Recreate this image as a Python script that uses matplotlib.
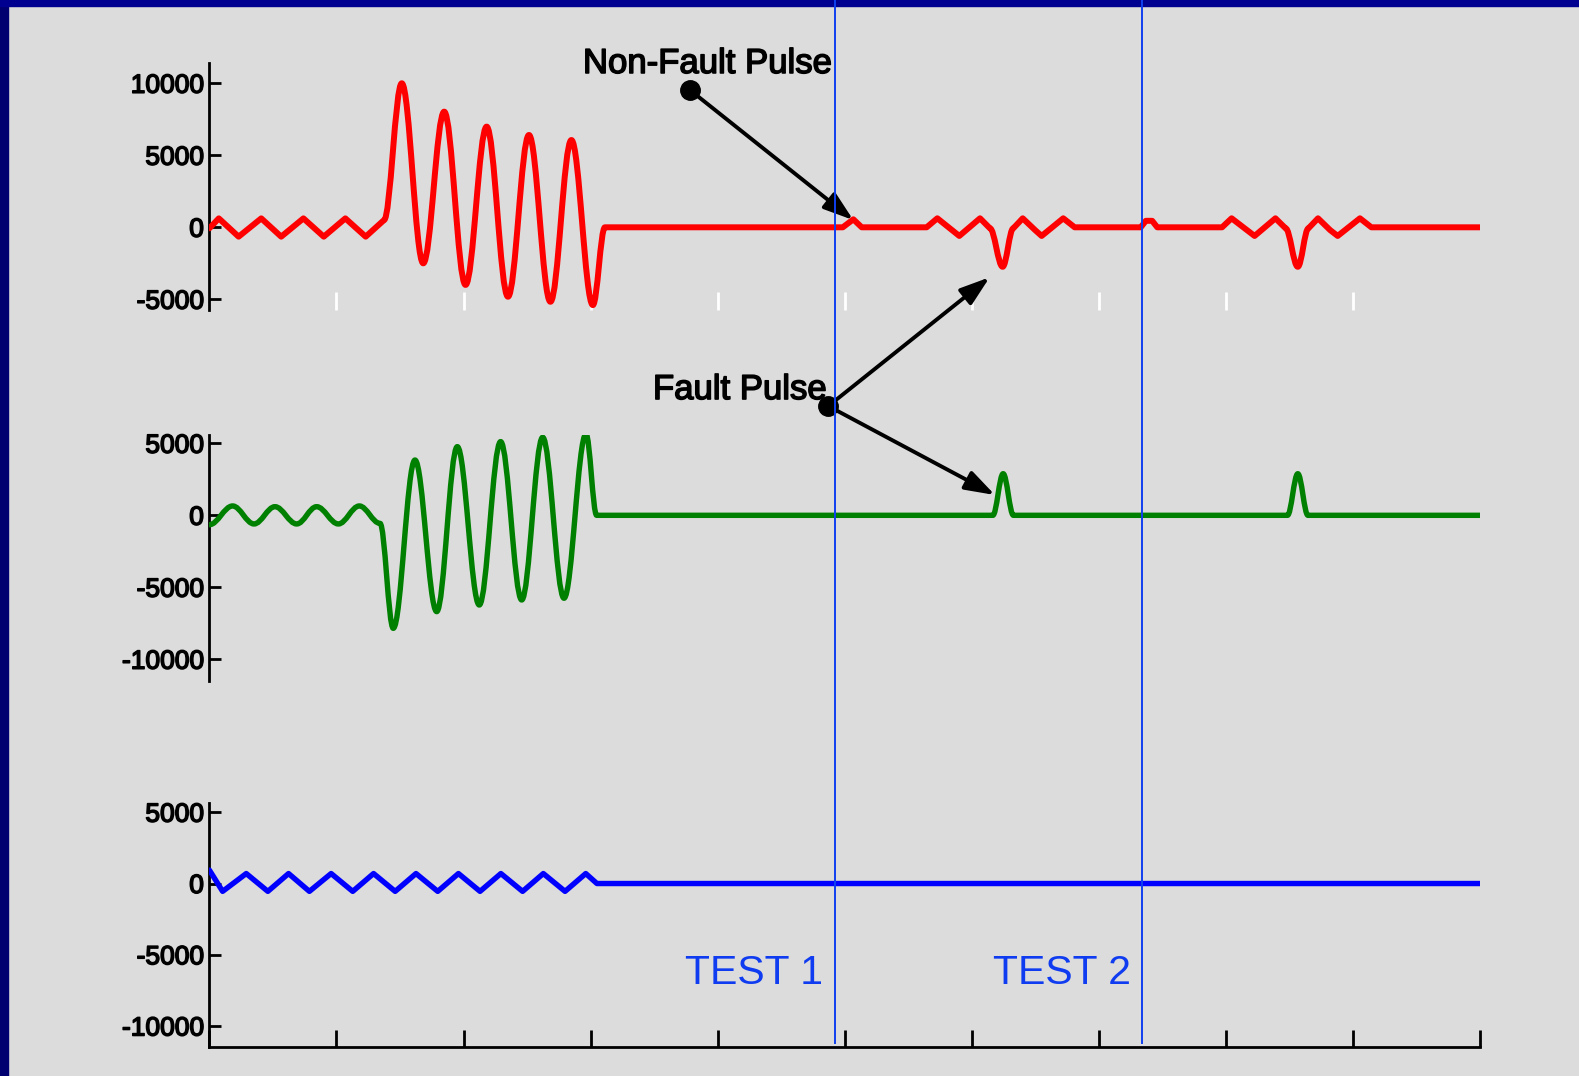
import matplotlib
matplotlib.use('Agg')
import matplotlib.pyplot as plt
import matplotlib.patheffects as pe
from matplotlib.patches import Rectangle, PathPatch
from matplotlib.path import Path

plt.rcParams['font.family'] = ['Liberation Sans', 'DejaVu Sans']
plt.rcParams['axes.unicode_minus'] = False

# --- data (x in divisions, y in amplitude) ---
# turning points of each trace
red_x = [0, 0.074, 0.23, 0.408, 0.565, 0.74, 0.90, 1.07, 1.23, 1.374,
         1.514, 1.683, 1.848, 2.016, 2.182, 2.35, 2.515, 2.684, 2.849, 3.018, 3.113,
         4.985, 5.068, 5.134,
         5.645, 5.729, 5.902, 6.065, 6.143, 6.243, 6.327, 6.401, 6.498, 6.55, 6.72, 6.81,
         7.33, 7.37, 7.42, 7.46,
         7.97, 8.045, 8.226, 8.39, 8.47, 8.566, 8.65, 8.725, 8.82, 8.88, 9.055, 9.145, 10.0]
red_y = [-70, 620, -650, 620, -650, 620, -650, 620, -650, 500,
         10000, -2500, 8030, -4000, 6990, -4820, 6410, -5170, 6060, -5400, 0,
         0, 555, 0,
         0, 625, -600, 625, -70, -2740, -70, 625, -190, -600, 625, 0,
         0, 450, 450, 0,
         0, 625, -600, 625, -70, -2740, -70, 625, -190, -600, 625, 0, 0]

green_x = [0, 0.183, 0.351, 0.516, 0.687, 0.844, 1.015, 1.18, 1.343,
           1.447, 1.618, 1.789, 1.951, 2.124, 2.292, 2.458, 2.623, 2.791, 2.964, 3.048,
           6.166, 6.247, 6.328, 8.485, 8.566, 8.646, 10.0]
green_y = [-650, 650, -600, 600, -600, 600, -600, 650, -560,
           -7850, 3840, -6690, 4770, -6230, 5120, -5880, 5420, -5760, 5650, 0,
           0, 2890, 0, 0, 2890, 0, 0]

blue_x = [0, 0.104, 0.29, 0.46, 0.623, 0.787, 0.958, 1.128, 1.292, 1.462,
          1.626, 1.797, 1.96, 2.13, 2.294, 2.465, 2.628, 2.799, 2.962, 3.05, 10.0]
blue_y = [940, -550, 700, -550, 700, -550, 700, -550, 700, -550,
          700, -550, 700, -550, 700, -550, 700, -550, 700, 0, 0]

test_x = [4.92, 7.34]
test_labels = ['TEST 1', 'TEST 2']

top_ticks = [-5000, 0, 5000, 10000]
low_ticks = [-10000, -5000, 0, 5000]

# annotation anchor points
nonfault_dot = (3.782, 9535)
nonfault_tip = (5.068, 500)
fault_dot = (4.871, 7590)
fault_tip_top = (6.141, -3470)
fault_tip_mid = (6.183, 1410)

W, H = 1579, 1076
fig = plt.figure(figsize=(W / 100, H / 100), dpi=100, facecolor='#dcdcdc')

# navy frame pieces
fig.patches.append(Rectangle((0, 0), 8 / W, 1, transform=fig.transFigure,
                             color='#000070', zorder=0))
fig.patches.append(Rectangle((0, 1 - 6 / H), 1, 6 / H, transform=fig.transFigure,
                             color='#000090', zorder=0))

heavy = [pe.withStroke(linewidth=1.1, foreground='black')]

x0 = 209.4 / W
aw = (1480 - 209.4) / W


def make_ax(top_px, bot_px):
    ax = fig.add_axes([x0, 1 - bot_px / H, aw, (bot_px - top_px) / H])
    ax.set_facecolor('none')
    ax.set_xlim(0, 10)
    for s in ['top', 'right']:
        ax.spines[s].set_visible(False)
    ax.spines['left'].set_linewidth(2)
    ax.tick_params(axis='y', direction='in', length=8.6, width=2,
                   labelsize=19, pad=4)
    return ax


def draw_trace(ax, xs, ys, color, lw, min_swing):
    # swings bigger than min_swing are drawn as rounded (sine-like) arcs,
    # smaller ones stay as the zigzag seen on the scope trace
    verts = [(xs[0], ys[0])]
    codes = [Path.MOVETO]
    for i in range(1, len(xs)):
        dx = xs[i] - xs[i - 1]
        k = 0.3642 if abs(ys[i] - ys[i - 1]) > min_swing else 0.0
        verts += [(xs[i - 1] + k * dx, ys[i - 1]),
                  (xs[i] - k * dx, ys[i]),
                  (xs[i], ys[i])]
        codes += [Path.CURVE4] * 3
    ax.add_patch(PathPatch(Path(verts, codes), fill=False, edgecolor=color, lw=lw,
                           joinstyle='round', capstyle='round', zorder=3))


ax1 = make_ax(63, 310)
ax2 = make_ax(435, 680.7)
ax3 = make_ax(803, 1046.7)

ax1.set_ylim(-5743, 11410)
ax2.set_ylim(-11490, 5580)
ax3.set_ylim(-11450, 5650)

for ax, ticks in [(ax1, top_ticks), (ax2, low_ticks), (ax3, low_ticks)]:
    ax.set_yticks(ticks)
    for lbl in ax.get_yticklabels():
        lbl.set_path_effects(heavy)

# top panel: hidden bottom spine, white ticks
ax1.spines['bottom'].set_visible(False)
ax1.set_xticks(range(1, 10))
ax1.set_xticklabels([])
ax1.tick_params(axis='x', direction='in', length=13, width=2, color='white')

# middle panel: no x axis
ax2.spines['bottom'].set_visible(False)
ax2.set_xticks([])

# bottom panel: black ticks, no labels
ax3.spines['bottom'].set_linewidth(2)
ax3.set_xticks(range(0, 11))
ax3.set_xticklabels([])
ax3.tick_params(axis='x', direction='in', length=12, width=2, color='black')

draw_trace(ax1, red_x, red_y, '#ff0000', 4.3, 2000)
draw_trace(ax2, green_x, green_y, '#008000', 3.9, 0)
draw_trace(ax3, blue_x, blue_y, '#0000ff', 3.9, 5000)

arrow_kw = dict(arrowstyle='-|>,head_length=0.9,head_width=0.3', mutation_scale=20,
                lw=2.8, color='black', shrinkA=0, shrinkB=0)

# Non-Fault Pulse
ax1.text(2.940, 10715, 'Non-Fault Pulse', fontsize=25, va='baseline', ha='left',
         clip_on=False, path_effects=heavy)
ax1.annotate('', xy=nonfault_tip, xytext=nonfault_dot, arrowprops=arrow_kw,
             annotation_clip=False)
ax1.plot(*nonfault_dot, 'o', color='black', ms=14, clip_on=False, zorder=5)

# Fault Pulse
ax2.text(3.491, 8076, 'Fault Pulse', fontsize=25, va='baseline', ha='left',
         clip_on=False, path_effects=heavy)
ax2.annotate('', xy=fault_tip_top, xycoords=ax1.transData,
             xytext=fault_dot, textcoords=ax2.transData,
             arrowprops=arrow_kw, annotation_clip=False)
ax2.annotate('', xy=fault_tip_mid, xytext=fault_dot, arrowprops=arrow_kw,
             annotation_clip=False)
ax2.plot(*fault_dot, 'o', color='black', ms=14, clip_on=False, zorder=5)

# overlay for test lines spanning the whole figure height
ov = fig.add_axes([x0, 0, aw, 1], zorder=10)
ov.set_facecolor('none')
ov.set_xlim(0, 10)
ov.set_ylim(0, 1)
ov.axis('off')
for xv, lab in zip(test_x, test_labels):
    ov.axvline(xv, ymin=1 - 1042.7 / H, ymax=1, color='#1040f0', lw=1.4)
    ov.text(xv - 0.09, 1 - 984.3 / H, lab, color='#0f3cf0', fontsize=29.5,
            ha='right', va='baseline')

fig.savefig('out.png', dpi=100, facecolor=fig.get_facecolor())
